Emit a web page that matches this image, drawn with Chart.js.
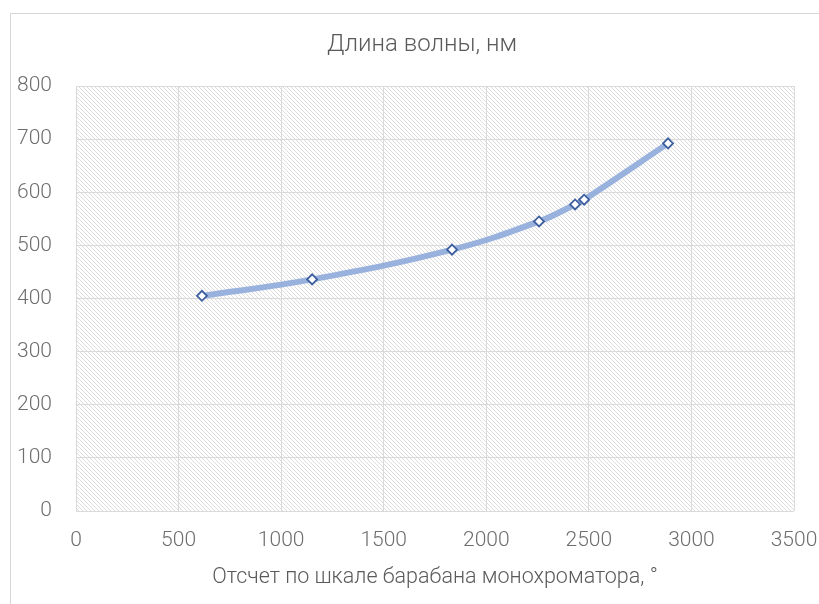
<!DOCTYPE html>
<html lang="ru">
<head>
<meta charset="utf-8">
<title>Длина волны, нм</title>
<script src="https://cdn.jsdelivr.net/npm/chart.js@4/dist/chart.umd.min.js"></script>
<style>
  html, body { margin: 0; padding: 0; background: #fff; overflow: hidden; }
  #frame {
    position: absolute; left: 10px; top: 13px;
    width: 900px; height: 900px;
    border: 1px solid #d6d6d6;
  }
  #wrap { position: absolute; left: 0; top: 0; width: 819px; height: 604px; }
</style>
</head>
<body>
<div id="frame"></div>
<div id="wrap"><canvas id="chart" width="819" height="604"></canvas></div>
<script>
'use strict';

/* ---------- data ---------- */
const drumReading = [614, 1151, 1833, 2257, 2433, 2477, 2886];
const wavelength  = [405, 436, 492, 545, 577, 586, 692];

const chartTitle = 'Длина волны, нм';
const xAxisTitle = 'Отсчет по шкале барабана монохроматора, °';

const xMin = 0, xMax = 3500, xStep = 500;
const yMin = 0, yMax = 800,  yStep = 100;

/* ---------- style ---------- */
const FONT    = "Roboto, 'Noto Sans', sans-serif";
const WEIGHT  = '300';
const TXT     = '#6e6e6e';
const GRID    = '#dadada';

/* diagonal hatch for plot area (Excel pattern fill) */
function makeHatch(ctx) {
  const c = document.createElement('canvas');
  c.width = 4; c.height = 4;
  const g = c.getContext('2d');
  g.fillStyle = '#ffffff';
  g.fillRect(0, 0, 4, 4);
  g.strokeStyle = '#dcdcdc';
  g.lineWidth = 1;
  g.beginPath();
  g.moveTo(-1, -1); g.lineTo(5, 5);
  g.moveTo(-1, 3);  g.lineTo(1, 5);
  g.moveTo(3, -1);  g.lineTo(5, 1);
  g.stroke();
  return ctx.createPattern(c, 'repeat');
}

/* plot-area hatch + chart title (Excel puts it a bit right of centre) */
const excelPlugin = {
  id: 'excelLook',
  beforeDraw(chart) {
    const a = chart.chartArea;
    const ctx = chart.ctx;
    ctx.save();
    ctx.fillStyle = makeHatch(ctx);
    ctx.fillRect(a.left, a.top, a.right - a.left, a.bottom - a.top);
    ctx.restore();
  },
  afterDraw(chart) {
    const ctx = chart.ctx;
    ctx.save();
    ctx.font = WEIGHT + ' 24px ' + FONT;
    ctx.fillStyle = '#5a5a5a';
    ctx.textAlign = 'center';
    ctx.textBaseline = 'middle';
    ctx.fillText(chartTitle, 422, 45);
    ctx.restore();
  }
};

function plain(v) { return String(v); }

new Chart(document.getElementById('chart'), {
  type: 'line',
  data: {
    datasets: [{
      data: drumReading.map(function (x, i) { return { x: x, y: wavelength[i] }; }),
      borderColor: 'rgba(140,168,218,0.88)',
      borderWidth: 6,
      tension: 0.4,
      fill: false,
      pointStyle: 'rectRot',
      pointRadius: 5,
      pointBorderWidth: 1.8,
      pointBorderColor: '#3d5f9e',
      pointBackgroundColor: '#ffffff'
    }]
  },
  options: {
    responsive: false,
    animation: false,
    layout: { padding: { left: 0, right: 25, top: 86, bottom: 0 } },
    plugins: {
      legend: { display: false },
      tooltip: { enabled: false },
      title: { display: false }
    },
    scales: {
      x: {
        type: 'linear',
        min: xMin, max: xMax,
        border: { display: false },
        grid: { color: GRID, drawTicks: false },
        ticks: {
          stepSize: xStep,
          color: TXT,
          padding: 17,
          maxRotation: 0,
          callback: plain,
          font: { family: FONT, size: 21, weight: WEIGHT }
        },
        title: {
          display: true,
          text: xAxisTitle,
          color: '#5a5a5a',
          font: { family: FONT, size: 21.5, weight: WEIGHT },
          padding: { top: 0, bottom: 13 }
        },
        afterFit: function (scale) {
          scale.height = 93;
          scale.paddingLeft = 0;
          scale.paddingRight = 0;
        }
      },
      y: {
        min: yMin, max: yMax,
        border: { display: false },
        grid: { color: GRID, drawTicks: false },
        ticks: {
          stepSize: yStep,
          color: TXT,
          padding: 24,
          callback: plain,
          font: { family: FONT, size: 21, weight: WEIGHT }
        },
        afterFit: function (scale) {
          scale.width = 76;
          scale.paddingTop = 0;
          scale.paddingBottom = 0;
        }
      }
    }
  },
  plugins: [excelPlugin]
});
</script>
</body>
</html>
